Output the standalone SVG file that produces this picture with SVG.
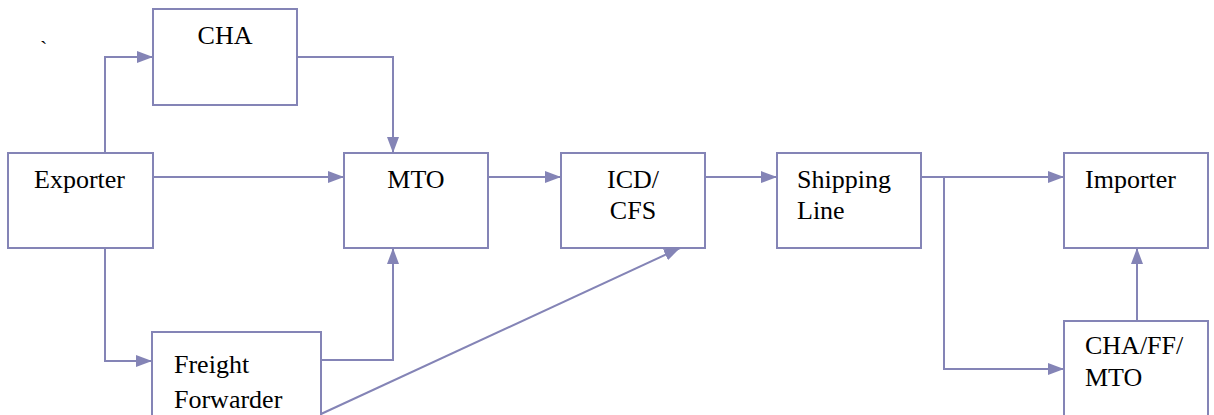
<svg xmlns="http://www.w3.org/2000/svg" width="1214" height="415" viewBox="0 0 1214 415">
<defs>
<style>
.box{fill:#fff;stroke:#8484B6;stroke-width:2}
.con{fill:none;stroke:#8484B6;stroke-width:2}
.c{text-anchor:middle}
</style>
<marker id="ah" markerUnits="userSpaceOnUse" markerWidth="16" markerHeight="12" refX="16" refY="6" orient="auto">
<path d="M0,0 L16,6 L0,12 z" fill="#8484B6"/>
</marker>
</defs>
<rect width="1214" height="415" fill="#fff"/>
<g id="connectors">
<path class="con" d="M105,153 V57 H153" marker-end="url(#ah)"/>
<path class="con" d="M297,57 H393 V153" marker-end="url(#ah)"/>
<path class="con" d="M153,177 H344" marker-end="url(#ah)"/>
<path class="con" d="M105,248 V361 H152" marker-end="url(#ah)"/>
<path class="con" d="M321,360 H393 V248" marker-end="url(#ah)"/>
<path class="con" d="M321,414 L680,248" marker-end="url(#ah)"/>
<path class="con" d="M488,177 H561" marker-end="url(#ah)"/>
<path class="con" d="M705,177 H777" marker-end="url(#ah)"/>
<path class="con" d="M921,177 H1064" marker-end="url(#ah)"/>
<path class="con" d="M944,177 V369 H1064" marker-end="url(#ah)"/>
<path class="con" d="M1137,321 V248" marker-end="url(#ah)"/>
</g>
<g font-family="Liberation Serif" font-size="26" fill="#000">
<text x="40" y="56" font-size="22">`</text>
<g id="cha"><rect class="box" x="153" y="9" width="144" height="96"/><text class="c" x="225" y="44">CHA</text></g>
<g id="exporter"><rect class="box" x="8" y="153" width="145" height="95"/><text x="34" y="188">Exporter</text></g>
<g id="mto"><rect class="box" x="344" y="153" width="144" height="95"/><text class="c" x="416" y="188">MTO</text></g>
<g id="icd"><rect class="box" x="561" y="153" width="144" height="95"/><text class="c" x="633" y="188">ICD/</text><text class="c" x="633" y="219">CFS</text></g>
<g id="shipping"><rect class="box" x="777" y="153" width="144" height="95"/><text x="797" y="188">Shipping</text><text x="797" y="219">Line</text></g>
<g id="importer"><rect class="box" x="1064" y="153" width="144" height="95"/><text x="1085" y="188">Importer</text></g>
<g id="ff"><rect class="box" x="152" y="332" width="169" height="100"/><text x="174" y="373">Freight</text><text x="174" y="408">Forwarder</text></g>
<g id="chaffmto"><rect class="box" x="1064" y="321" width="144" height="110"/><text x="1085" y="354">CHA/FF/</text><text x="1085" y="386">MTO</text></g>
</g>
</svg>
